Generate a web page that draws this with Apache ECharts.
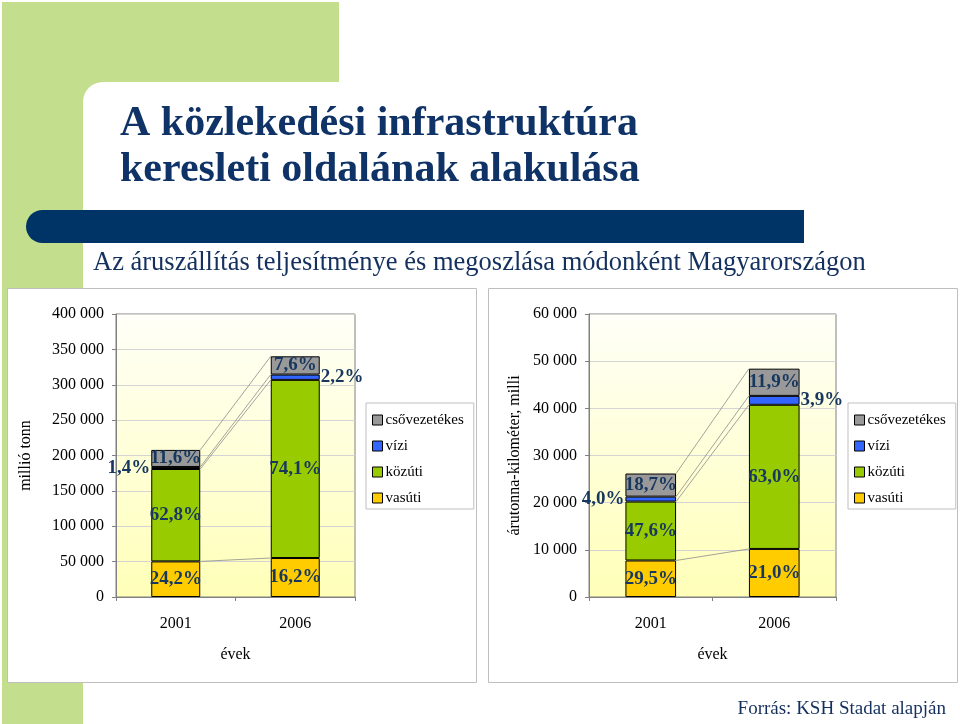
<!DOCTYPE html>
<html>
<head>
<meta charset="utf-8">
<script src="https://cdn.jsdelivr.net/npm/echarts@6/dist/echarts.min.js"></script>
<style>html,body{margin:0;padding:0;background:#fff}#c{width:960px;height:724px}</style>
</head>
<body>
<div id="c"></div>
<script>
// ---- data ----
const years = ['2001', '2006'];
const seriesNames = ['vasúti', 'közúti', 'vízi', 'csővezetékes'];
const legendOrder = ['csővezetékes', 'vízi', 'közúti', 'vasúti'];
// left chart: millió tonn
const tonRail = [50300, 55100];
const tonRoad = [130600, 251800];
const tonWater = [2900, 7500];
const tonPipe = [24100, 25800];
const tonRailPct = ['24,2%', '16,2%'];
const tonRoadPct = ['62,8%', '74,1%'];
const tonWaterPct = ['1,4%', '2,2%'];
const tonPipePct = ['11,6%', '7,6%'];
// right chart: árutonna-kilométer, millió
const tkmRail = [7740, 10190];
const tkmRoad = [12490, 30560];
const tkmWater = [1050, 1890];
const tkmPipe = [4900, 5770];
const tkmRailPct = ['29,5%', '21,0%'];
const tkmRoadPct = ['47,6%', '63,0%'];
const tkmWaterPct = ['4,0%', '3,9%'];
const tkmPipePct = ['18,7%', '11,9%'];
const tonTicksMax = 400000, tonInterval = 50000;
const tkmTicksMax = 60000, tkmInterval = 10000;

const colors = {'vasúti':'#ffcc00','közúti':'#99cc00','vízi':'#3366ff','csővezetékes':'#999999'};
const SERIF = 'Liberation Serif';
const labelColor = '#17375e';

function fmt(v){ return String(v).replace(/\B(?=(\d{3})+(?!\d))/g, ' '); }

function makeSeries(idx, vals, pcts, waterPos){
  const out = [];
  seriesNames.forEach((name, s) => {
    out.push({
      type: 'bar', name: name, stack: 'st' + idx,
      xAxisIndex: idx, yAxisIndex: idx,
      barWidth: '41%',
      itemStyle: {color: colors[name], borderColor: '#000', borderWidth: 1},
      label: {
        show: true, position: 'inside',
        formatter: p => pcts[s][p.dataIndex],
        fontFamily: SERIF, fontWeight: 'bold', fontSize: 19, color: labelColor
      },
      emphasis: {disabled: true},
      data: vals[s].map((v, i) => {
        if (name === 'vízi') return {value: v, label: {position: waterPos[i], distance: 1}};
        return v;
      }),
      z: 3
    });
  });
  // series lines (cumulative tops)
  const lines = [];
  let c0 = 0, c1 = 0;
  for (let s = 0; s < seriesNames.length; s++) {
    c0 += vals[s][0]; c1 += vals[s][1];
    lines.push([0, c0, c1]);
  }
  out.push({
    type: 'custom', name: 'lines' + idx, xAxisIndex: idx, yAxisIndex: idx,
    encode: {x: 0, y: 1}, silent: true, z: 2,
    renderItem: function(params, api){
      const p0 = api.coord([0, api.value(1)]);
      const p1 = api.coord([1, api.value(2)]);
      const hw = api.size([1, 0])[0] * 0.41 / 2;
      return {type: 'line', shape: {x1: p0[0] + hw, y1: p0[1], x2: p1[0] - hw, y2: p1[1]},
        style: {stroke: '#8c8c8c', lineWidth: 0.8}};
    },
    data: lines
  });
  return out;
}

const gridBg = {type: 'linear', x: 0, y: 0, x2: 0, y2: 1,
  colorStops: [{offset: 0, color: '#fffff8'}, {offset: 1, color: '#ffffb8'}]};

function grid(left, width){
  return {left: left, top: 314, width: width, height: 283, show: true,
    backgroundColor: gridBg, borderColor: '#808080', borderWidth: 1};
}
function xAx(idx){
  return {type: 'category', gridIndex: idx, data: years, boundaryGap: true,
    name: 'évek', nameLocation: 'middle', nameGap: 50,
    nameTextStyle: {fontFamily: SERIF, fontSize: 16, color: '#000'},
    axisLine: {lineStyle: {color: '#808080'}},
    axisTick: {show: true, length: 4, lineStyle: {color: '#808080'}},
    axisLabel: {fontFamily: SERIF, fontSize: 16, color: '#000', margin: 19}};
}
function yAx(idx, max, interval, name, gap){
  return {type: 'value', gridIndex: idx, min: 0, max: max, interval: interval,
    name: name, nameLocation: 'middle', nameGap: gap,
    nameTextStyle: {fontFamily: SERIF, fontSize: 16, color: '#000'},
    axisLine: {show: true, lineStyle: {color: '#808080'}},
    axisTick: {show: true, length: 4, lineStyle: {color: '#808080'}},
    splitLine: {lineStyle: {color: '#d4d4d4'}},
    axisLabel: {fontFamily: SERIF, fontSize: 16, color: '#000', margin: 12, formatter: fmt}};
}
function legend(left){
  return {data: legendOrder, orient: 'vertical', left: left, top: 403,
    width: 106, padding: [9, 10, 3, 6], itemGap: 10, itemWidth: 10, itemHeight: 10,
    icon: 'rect', borderColor: '#bfbfbf', borderWidth: 1, backgroundColor: '#fff',
    selectedMode: false,
    itemStyle: {borderColor: '#000', borderWidth: 1},
    textStyle: {fontFamily: SERIF, fontSize: 15, color: '#000', padding: [0, 0, 0, -2], lineHeight: 16}};
}

const chart = echarts.init(document.getElementById('c'), null, {renderer: 'canvas'});
const option = {
  animation: false,
  graphic: [
    {type: 'rect', z: -10, shape: {x: 2, y: 2, width: 337, height: 722}, style: {fill: '#c3de8c'}},
    {type: 'rect', z: -9, shape: {x: 83, y: 82, width: 877, height: 642, r: [20, 0, 0, 0]}, style: {fill: '#fff'}},
    {type: 'rect', z: -8, shape: {x: 26, y: 210, width: 778, height: 33, r: [16.5, 0, 0, 16.5]}, style: {fill: '#003366'}},
    {type: 'text', z: -7, x: 120, y: 124, style: {text: 'A közlekedési infrastruktúra', fill: '#0f3366',
      font: 'bold 42px "Liberation Serif"', verticalAlign: 'middle',
      shadowColor: 'rgba(0,0,0,0.3)', shadowOffsetX: 2, shadowOffsetY: 2, shadowBlur: 1}},
    {type: 'text', z: -7, x: 120, y: 170, style: {text: 'keresleti oldalának alakulása', fill: '#0f3366',
      font: 'bold 42px "Liberation Serif"', verticalAlign: 'middle',
      shadowColor: 'rgba(0,0,0,0.3)', shadowOffsetX: 2, shadowOffsetY: 2, shadowBlur: 1}},
    {type: 'text', z: -7, x: 93, y: 263, style: {text: 'Az áruszállítás teljesítménye és megoszlása módonként Magyarországon',
      fill: '#14305e', font: '26.5px "Liberation Serif"', verticalAlign: 'middle'}},
    {type: 'rect', z: -6, shape: {x: 7.5, y: 288.5, width: 469, height: 394}, style: {fill: '#fff', stroke: '#bfbfbf', lineWidth: 1}},
    {type: 'rect', z: -6, shape: {x: 488.5, y: 288.5, width: 469, height: 394}, style: {fill: '#fff', stroke: '#bfbfbf', lineWidth: 1}},
    {type: 'text', z: -7, x: 946, y: 709, style: {text: 'Forrás: KSH Stadat alapján', fill: '#14305e',
      font: '19px "Liberation Serif"', align: 'right', verticalAlign: 'middle'}}
  ],
  grid: [grid(116, 239), grid(589, 247)],
  xAxis: [xAx(0), xAx(1)],
  yAxis: [yAx(0, tonTicksMax, tonInterval, 'millió tonn', 82), yAx(1, tkmTicksMax, tkmInterval, 'árutonna-kilométer, milli', 66)],
  legend: [legend(366), legend(848)],
  series: [].concat(
    makeSeries(0, [tonRail, tonRoad, tonWater, tonPipe], [tonRailPct, tonRoadPct, tonWaterPct, tonPipePct], ['left', 'right']),
    makeSeries(1, [tkmRail, tkmRoad, tkmWater, tkmPipe], [tkmRailPct, tkmRoadPct, tkmWaterPct, tkmPipePct], ['left', 'right'])
  )
};
chart.setOption(option);
</script>
</body>
</html>
